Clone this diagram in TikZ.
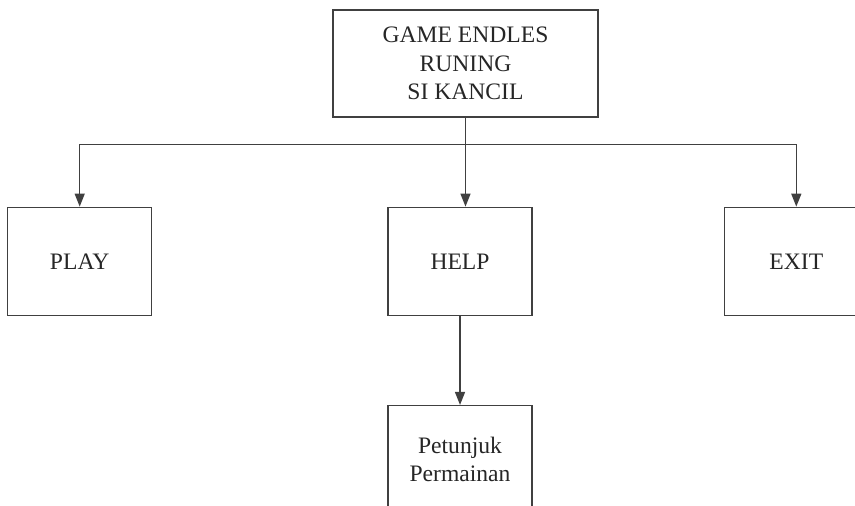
\documentclass[tikz,border=0pt]{standalone}
\usepackage{fontspec}
\setmainfont{Liberation Serif}
\usetikzlibrary{positioning,calc,arrows.meta}

\begin{document}
\begin{tikzpicture}[x=0.5pt,y=-0.5pt,
    menubox/.style={rectangle, draw=black!75, line width=0.65pt, text=black!85, align=center, minimum width=72pt, minimum height=54pt, font=\fontsize{11.8}{14.3}\selectfont},
    link/.style={draw=black!75, line width=0.65pt},
    >={Triangle[length=6.5pt,width=5pt]}]
        \useasboundingbox (0,0) rectangle (855,506);
        % Nodes
        \node [menubox,minimum width=132.5pt,minimum height=53.5pt] (title) at (465.5,63.5) {GAME ENDLES\\RUNING\\SI KANCIL};
        \node [menubox,below=44.5pt of title,xshift=-2.75pt] (help) {HELP};
        \node [menubox,left=117.5pt of help] (play) {PLAY};
        \node [menubox,right=95.5pt of help] (exit) {EXIT};
        \node [menubox,below=44.5pt of help] (petunjuk) {Petunjuk\\Permainan};
        \coordinate (split) at ($(title.south)+(0,-13.5pt)$);
        
        % Arrows
        \draw[link] (title.south) -- (split);
        \draw[link,->] (split) -| (play.north);
        \draw[link,->] (split) -| (exit.north);
        \draw[link,->] (split) -- (split |- help.north);
        \draw[link,->] (help) -- (petunjuk);
        
        \end{tikzpicture}
\end{document}
